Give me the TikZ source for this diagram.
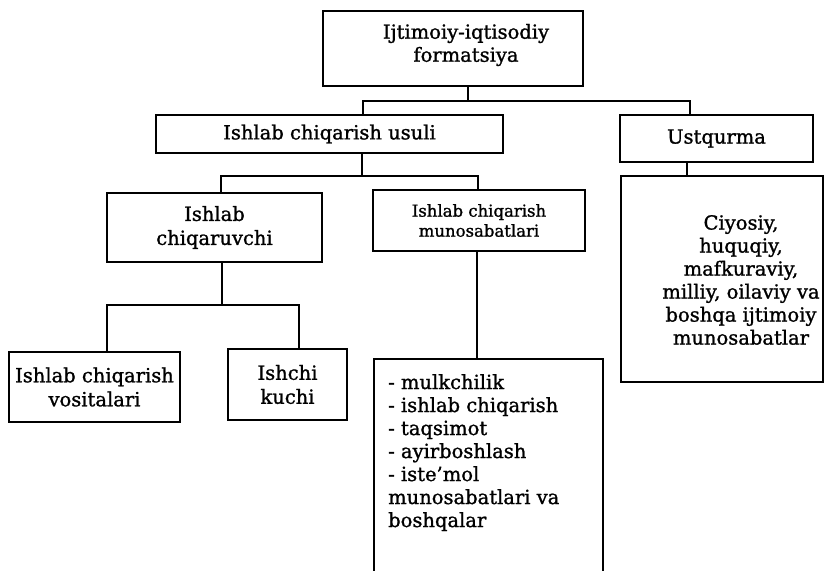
\documentclass[tikz,border=0pt]{standalone}
\usepackage{fontspec}
\setmainfont[FakeBold=1.2]{DejaVu Serif}
\begin{document}
\begin{tikzpicture}[x=1pt,y=-1pt,
  box/.style={draw, line width=2.2pt, rectangle, inner sep=0pt, align=center,
              font=\fontsize{19.5}{24}\selectfont},
  lbl/.style={inner sep=0pt, align=center, font=\fontsize{19.5}{23}\selectfont},
  conn/.style={line width=2.2pt}]
\useasboundingbox (0,0) rectangle (824,570);
\clip (0,0) rectangle (824,570);

% boxes
\node[box, minimum width=260pt, minimum height=75pt] (top) at (453,48.5) {};
\node[lbl] (toptxt) at (466,45) {Ijtimoiy-iqtisodiy\\formatsiya};

\node[box, minimum width=347pt, minimum height=38pt] (usuli) at (329.5,134) {Ishlab chiqarish usuli};
\node[box, minimum width=193pt, minimum height=47pt] (ust) at (716.5,138.5) {Ustqurma};
\node[box, minimum width=202pt, minimum height=206pt] (ustlist) at (722,279) {};
\node[lbl] (usttxt) at (741,280) {Ciyosiy,\\huquqiy,\\mafkuraviy,\\milliy, oilaviy va\\boshqa ijtimoiy\\munosabatlar};

\node[box, minimum width=215pt, minimum height=69pt] (prod) at (214.5,227.5) {Ishlab\\chiqaruvchi};
\node[box, minimum width=212pt, minimum height=61pt, font=\fontsize{16.5}{20}\selectfont] (rel) at (479,220.5) {Ishlab chiqarish\\munosabatlari};
\node[box, minimum width=229pt, minimum height=242pt, anchor=north west] (lst) at (373,358) {};
\node[lbl, align=left, anchor=north west] (lsttxt) at (388,374) {- mulkchilik\\- ishlab chiqarish\\- taqsimot\\- ayirboshlash\\- iste'mol\\munosabatlari va\\boshqalar};

\node[box, minimum width=171pt, minimum height=70pt] (tools) at (94.5,387) {Ishlab chiqarish\\vositalari};
\node[box, minimum width=119pt, minimum height=71pt] (labor) at (287.5,384.5) {Ishchi\\kuchi};

% connectors
\coordinate (j1) at (468,101);
\coordinate (j1l) at (363,101);
\coordinate (j1r) at (690,101);
\draw[conn] (top.south -| j1) -- (j1);
\draw[conn] (usuli.north -| j1l) -- (j1l) -- (j1r) -- (ust.north -| j1r);

\coordinate (j2) at (687,170);
\draw[conn] (ust.south -| j2) -- (ustlist.north -| j2);

\coordinate (j3) at (362,176);
\coordinate (j3l) at (221,176);
\coordinate (j3r) at (478,176);
\draw[conn] (usuli.south -| j3) -- (j3);
\draw[conn] (prod.north -| j3l) -- (j3l) -- (j3r) -- (rel.north -| j3r);

\coordinate (j4) at (477,300);
\draw[conn] (rel.south -| j4) -- (lst.north -| j4);

\coordinate (j5) at (222,305);
\coordinate (j5l) at (107,305);
\coordinate (j5r) at (299,305);
\draw[conn] (prod.south -| j5) -- (j5);
\draw[conn] (tools.north -| j5l) -- (j5l) -- (j5r) -- (labor.north -| j5r);
\end{tikzpicture}
\end{document}
